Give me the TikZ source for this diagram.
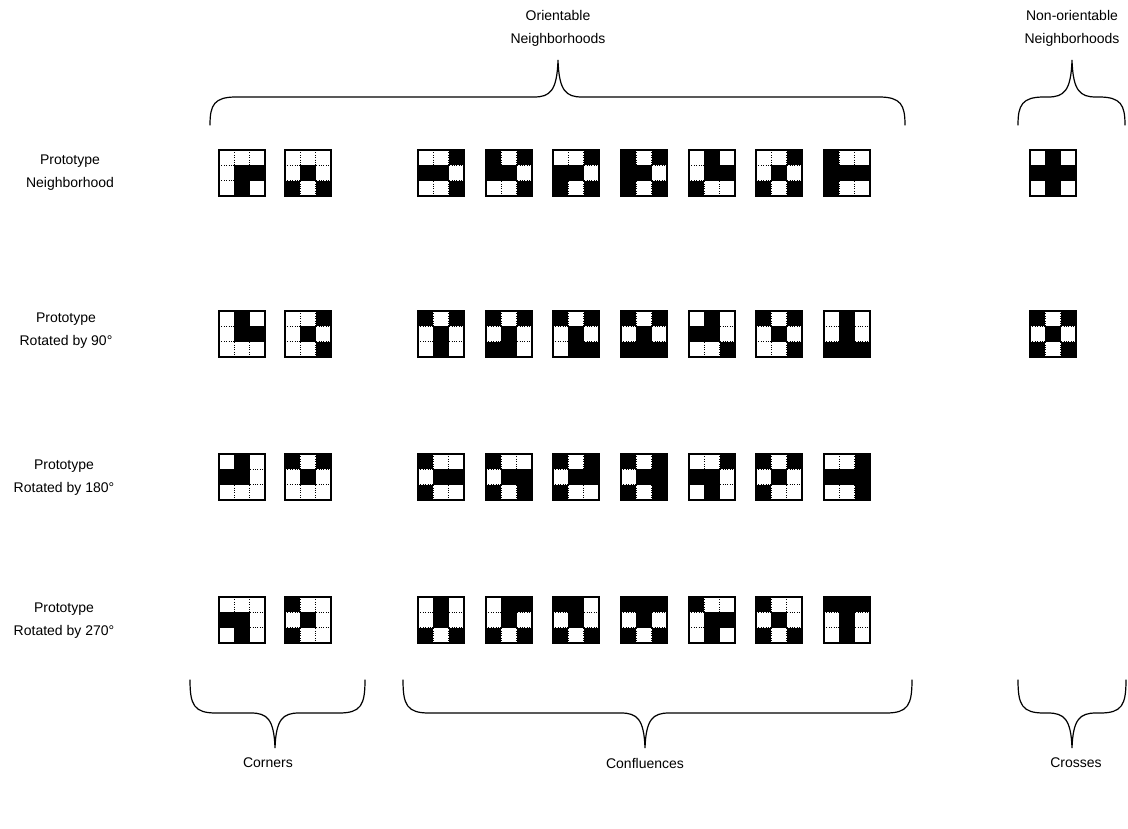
\documentclass[tikz,border=0pt]{standalone}
\usepackage{fontspec}
\setmainfont{Liberation Sans}
\def\cs{15.4}
\newcommand{\nbgrid}[5]{%
  \foreach \i in {1,2}{%
    \draw[cellsep] (#2+\i*\cs,#3) -- ++(0,3*\cs);
    \draw[cellsep] (#2,#3+\i*\cs) -- ++(3*\cs,0);
  }
  \foreach \r in {0,1,2}{\foreach \c in {0,1,2}{%
    \ifcase#4 \pgfmathtruncatemacro\src{\r*3+\c}\or
      \pgfmathtruncatemacro\src{\c*3+2-\r}\or
      \pgfmathtruncatemacro\src{(2-\r)*3+2-\c}\or
      \pgfmathtruncatemacro\src{(2-\c)*3+\r}\fi
    \pgfmathtruncatemacro\val{{#5}[\src]}%
    \ifnum\val=1 \fill (#2+\c*\cs,#3+\r*\cs) rectangle ++(\cs,\cs);\fi
  }}
  \node[gridbox] (#1) at (#2+1.5*\cs,#3+1.5*\cs) {};
}
% brace with tip up: #1 x1, #2 x2, #3 xc, #4 yend, #5 ymid, #6 ytip
\newcommand{\upbrace}[6]{%
  \draw[brc] (#1,#4) .. controls (#1,#5+8) and (#1+4,#5) .. (#1+26,#5)
    -- (#3-24,#5) .. controls (#3-8,#5) and (#3-1,#5-6) .. (#3,#6)
    .. controls (#3+1,#5-6) and (#3+8,#5) .. (#3+24,#5)
    -- (#2-26,#5) .. controls (#2-4,#5) and (#2,#5+8) .. (#2,#4);
}
\newcommand{\downbrace}[6]{%
  \draw[brc] (#1,#4) .. controls (#1,#5-8) and (#1+4,#5) .. (#1+26,#5)
    -- (#3-24,#5) .. controls (#3-8,#5) and (#3-1,#5+6) .. (#3,#6)
    .. controls (#3+1,#5+6) and (#3+8,#5) .. (#3+24,#5)
    -- (#2-26,#5) .. controls (#2-4,#5) and (#2,#5-8) .. (#2,#4);
}
\begin{document}
\begin{tikzpicture}[x=1pt,y=-1pt,
  cellsep/.style={line width=1pt, dash pattern=on 1pt off 1.4pt},
  gridbox/.style={draw, line width=2.2pt, minimum size=46.2pt, inner sep=0pt, outer sep=0pt},
  lbl/.style={font=\fontsize{14}{23}\selectfont, align=center, inner sep=0pt},
  brc/.style={line width=1.2pt, line cap=round}]
\useasboundingbox[fill=white] (0,0) rectangle (1128,828);

% headings
\node[lbl] (orient) at (558,28) {Orientable\\Neighborhoods};
\node[lbl] (nonorient) at (1072,28) {Non-orientable\\Neighborhoods};
\upbrace{210}{905}{558}{125}{97}{60}
\upbrace{1018}{1125}{1072}{125}{97}{60}

% row labels
\node[lbl] (l0) at (70,173) {Prototype\\Neighborhood};
\node[lbl] (l1) at (66,331) {Prototype\\Rotated by 90°};
\node[lbl] (l2) at (64,478) {Prototype\\Rotated by 180°};
\node[lbl] (l3) at (64,621) {Prototype\\Rotated by 270°};

\foreach \k/\y in {0/150,1/311,2/454,3/597}{
  \nbgrid{k1r\k}{219}{\y}{\k}{0,0,0,0,1,1,0,1,0}
  \nbgrid{k2r\k}{285}{\y}{\k}{0,0,0,0,1,0,1,0,1}
  \nbgrid{c1r\k}{418}{\y}{\k}{0,0,1,1,1,0,0,0,1}
  \nbgrid{c2r\k}{486}{\y}{\k}{1,0,1,1,1,0,0,0,1}
  \nbgrid{c3r\k}{553}{\y}{\k}{0,0,1,1,1,0,1,0,1}
  \nbgrid{c4r\k}{621}{\y}{\k}{1,0,1,1,1,0,1,0,1}
  \nbgrid{c5r\k}{689}{\y}{\k}{0,1,0,0,1,1,1,0,0}
  \nbgrid{c6r\k}{756}{\y}{\k}{0,0,1,0,1,0,1,0,1}
  \nbgrid{c7r\k}{824}{\y}{\k}{1,0,0,1,1,1,1,0,0}
}
\nbgrid{x1r0}{1030}{150}{0}{0,1,0,1,1,1,0,1,0}
\nbgrid{x1r1}{1030}{311}{0}{1,0,1,0,1,0,1,0,1}

% bottom braces and labels
\downbrace{190}{365}{275}{680}{713}{748}
\downbrace{403}{912}{645}{680}{713}{748}
\downbrace{1018}{1126}{1072}{680}{713}{748}
\node[lbl] (corners) at (268,763) {Corners};
\node[lbl] (confl) at (645,763) {Confluences};
\node[lbl] (crosses) at (1076,763) {Crosses};
\end{tikzpicture}
\end{document}
